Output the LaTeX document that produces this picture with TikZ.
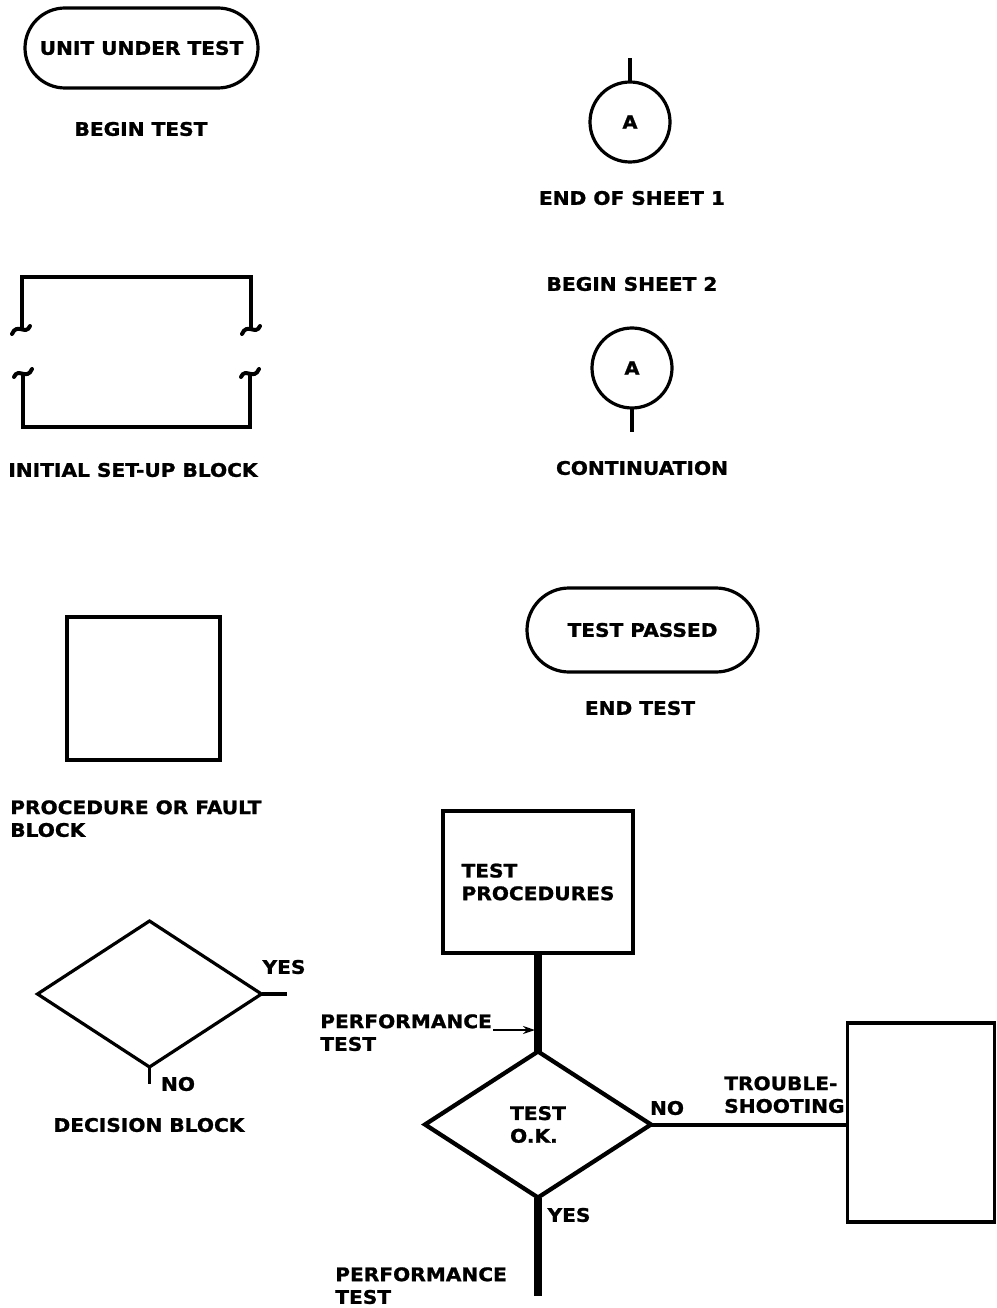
\documentclass[tikz,border=0pt]{standalone}
\usepackage{fontspec}
\setmainfont{DejaVu Sans}[BoldFeatures={FakeBold=1.2, FakeStretch=1.08}]
\usetikzlibrary{shapes.misc,shapes.geometric,arrows.meta}
\tikzset{
  lbl/.style={font=\bfseries\fontsize{14}{17}\selectfont, inner sep=0pt, align=center},
  lbll/.style={font=\bfseries\fontsize{14}{17}\selectfont, inner sep=0pt, align=left},
  outl/.style={draw, line width=2.4pt, outer sep=0pt},
  term/.style={outl, rounded rectangle, inner sep=0pt, font=\bfseries\fontsize{14}{17}\selectfont},
  conn/.style={outl, circle, inner sep=0pt, minimum size=60pt, font=\bfseries\fontsize{13.5}{15}\selectfont},
  box/.style={outl, rectangle, inner sep=0pt},
  dia/.style={outl, diamond, inner sep=0pt, font=\bfseries\fontsize{14}{17}\selectfont, align=left},
  thin/.style={line width=2.4pt},
  heavy/.style={line width=6pt},
  squig/.style={line width=3pt, line cap=round},
}
\begin{document}
\begin{tikzpicture}[x=0.75pt, y=-0.75pt]
\useasboundingbox (0,0) rectangle (996,1308);

% Unit under test
\node[term, minimum width=174.75pt, minimum height=60pt] (uut) at (141.5,48) {UNIT UNDER TEST};
\node[lbl] (begintest) at (141,129) {BEGIN TEST};

% Connector A (end of sheet 1)
\node[conn] (conA1) at (630,122) {A};
\coordinate (conA1top) at (630,58);
\draw[thin] (conA1.north) -- (conA1top);
\node[lbl] (endsheet) at (632,198) {END OF SHEET 1};
\node[lbl] (beginsheet) at (632,284) {BEGIN SHEET 2};

% Connector A (continuation)
\node[conn] (conA2) at (632,368) {A};
\coordinate (conA2bot) at (632,432);
\draw[thin] (conA2.south) -- (conA2bot);
\node[lbl] (contin) at (642,468) {CONTINUATION};

% Initial set-up block
\coordinate (isu) at (136,352);
\draw[outl, line join=miter] (22,329) -- (22,277) -- (251,277) -- (251,329);
\draw[outl, line join=miter] (23,373) -- (23,427) -- (250,427) -- (250,373);
\draw[squig] (12,334) .. controls (17,322) and (26,336) .. (30,326);
\draw[squig] (242,334) .. controls (247,322) and (256,336) .. (260,326);
\draw[squig] (14,377) .. controls (18,367) and (27,381) .. (32,369);
\draw[squig] (241,377) .. controls (245,367) and (254,381) .. (259,369);
\node[lbl] (isulbl) at (133,470) {INITIAL SET-UP BLOCK};

% Test passed
\node[term, minimum width=173.25pt, minimum height=63pt] (pass) at (642.5,630) {TEST PASSED};
\node[lbl] (endtest) at (640,708) {END TEST};

% Procedure block
\node[box, minimum width=114.75pt, minimum height=107.25pt] (proc) at (143.5,688.5) {};
\node[lbll, anchor=north west] (proclbl) at (10,800) {PROCEDURE OR FAULT\\BLOCK};

% Decision block
\node[dia, minimum width=168pt, minimum height=109.5pt] (dec) at (149.5,994) {};
\coordinate (decyes) at (287,994);
\coordinate (decno) at (149.5,1084);
\draw[thin] (dec.east) -- (decyes);
\draw[thin] (dec.south) -- (decno);
\node[lbl] (decyeslbl) at (284,967) {YES};
\node[lbl] (decnolbl) at (178,1084) {NO};
\node[lbl] (declbl) at (149,1125) {DECISION BLOCK};

% Example flow
\node[box, minimum width=142.5pt, minimum height=106.5pt, lbll] (tp) at (538,882) {TEST\\PROCEDURES};
\node[dia, line width=3.2pt, minimum width=169.5pt, minimum height=109.5pt] (tok) at (538,1124.5) {TEST\\O.K.};
\node[box, minimum width=110.25pt, minimum height=149.25pt] (ts) at (921,1122.5) {};
\coordinate (tpout) at (538,1296);

\draw[heavy] (tp.south) -- (tok.north);
\draw[heavy] (tok.south) -- (tpout);
\draw[line width=3pt] (tok.east) -- (tok.east -| ts.west);

\node[lbll, anchor=north west] (perf1) at (320,1014) {PERFORMANCE\\TEST};
\coordinate (perfarr) at (535,1030);
\draw[line width=1.2pt, -{Stealth[length=9pt,width=6pt]}] (perf1.north east |- perfarr) ++(1,0) -- (perfarr);

\node[lbl] (toknolbl) at (667,1108) {NO};
\node[lbll, anchor=north west] (tslbl) at (724,1076) {TROUBLE-\\SHOOTING};
\node[lbl] (tokyeslbl) at (569,1215) {YES};
\node[lbll, anchor=north west] (perf2) at (335,1267) {PERFORMANCE\\TEST};

\end{tikzpicture}
\end{document}
